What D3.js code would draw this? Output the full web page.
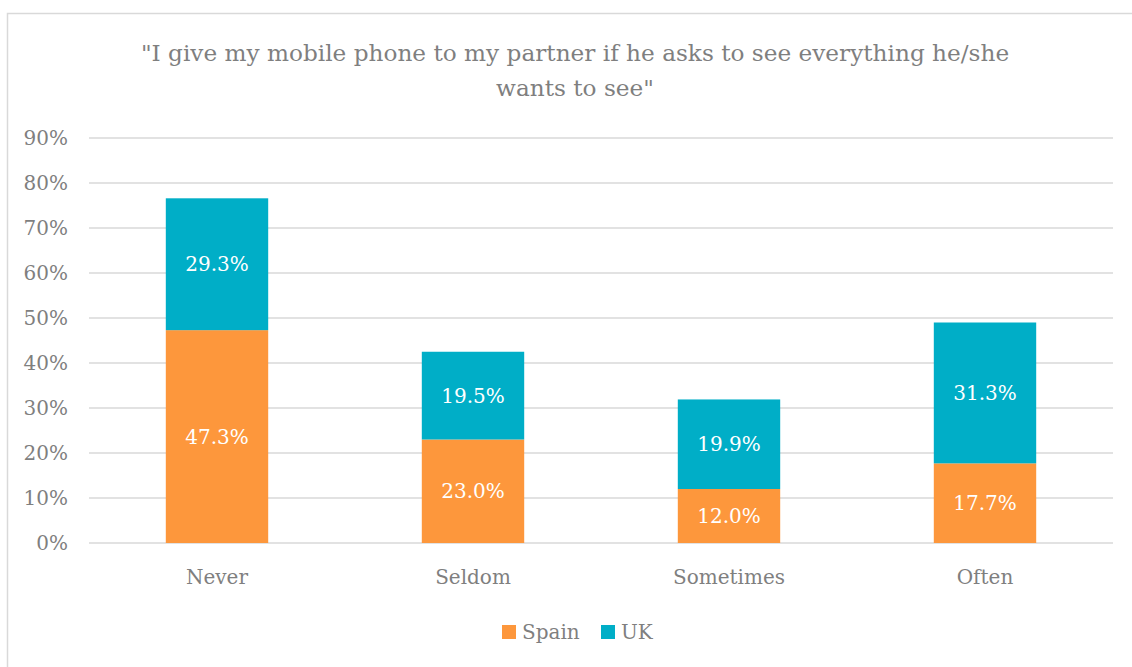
<!DOCTYPE html>
<html>
<head>
<meta charset="utf-8">
<script src="https://cdn.jsdelivr.net/npm/d3@7"></script>
<style>
  body { margin: 0; background: #fff; }
  svg text { font-family: "DejaVu Serif", "Liberation Serif", serif; }
</style>
</head>
<body>
<svg id="chart" width="1132" height="667"></svg>
<script>
const categories = ["Never", "Seldom", "Sometimes", "Often"];
const seriesNames = ["Spain", "UK"];
const spainValues = [47.3, 23.0, 12.0, 17.7];
const ukValues = [29.3, 19.5, 19.9, 31.3];
const yTicks = [0, 10, 20, 30, 40, 50, 60, 70, 80, 90];
const titleLines = ["\"I give my mobile phone to my partner if he asks to see everything he/she", "wants to see\""];
const colors = {"Spain": "#fd973c", "UK": "#00aec7"};

const svg = d3.select("#chart");
const plotLeft = 89, plotRight = 1113, plotTop = 138, plotBottom = 543;

// chart frame
svg.append("rect")
    .attr("x", 7.5).attr("y", 13.5)
    .attr("width", 1140).attr("height", 700)
    .attr("fill", "none").attr("stroke", "#d9d9d9").attr("stroke-width", 1.5);

const x = d3.scaleBand().domain(categories).range([plotLeft, plotRight]);
const y = d3.scaleLinear().domain([0, 90]).range([plotBottom, plotTop]);

// gridlines
svg.append("g").selectAll("line")
    .data(yTicks)
    .enter().append("line")
    .attr("x1", plotLeft).attr("x2", plotRight)
    .attr("y1", d => y(d)).attr("y2", d => y(d))
    .attr("stroke", "#d9d9d9").attr("stroke-width", 1.5);

// y labels
svg.append("g").selectAll("text")
    .data(yTicks)
    .enter().append("text")
    .attr("x", 68).attr("y", d => y(d) + 7)
    .attr("text-anchor", "end")
    .attr("font-size", 20).attr("fill", "#7f7f7f")
    .text(d => d + "%");

// stacked data
const rows = categories.map((c, i) => ({cat: c, Spain: spainValues[i], UK: ukValues[i]}));
const stack = d3.stack().keys(seriesNames)(rows);
const barW = x.bandwidth() * 0.4;

stack.forEach(layer => {
    const g = svg.append("g");
    g.selectAll("rect")
        .data(layer)
        .enter().append("rect")
        .attr("x", d => x(d.data.cat) + (x.bandwidth() - barW) / 2)
        .attr("y", d => y(d[1]))
        .attr("width", barW)
        .attr("height", d => y(d[0]) - y(d[1]))
        .attr("fill", colors[layer.key]);
    g.selectAll("text")
        .data(layer)
        .enter().append("text")
        .attr("x", d => x(d.data.cat) + x.bandwidth() / 2)
        .attr("y", d => (y(d[0]) + y(d[1])) / 2 + 7)
        .attr("text-anchor", "middle")
        .attr("font-size", 20).attr("fill", "#ffffff")
        .text(d => d.data[layer.key].toFixed(1) + "%");
});

// category labels
svg.append("g").selectAll("text")
    .data(categories)
    .enter().append("text")
    .attr("x", d => x(d) + x.bandwidth() / 2)
    .attr("y", 584)
    .attr("text-anchor", "middle")
    .attr("font-size", 20).attr("fill", "#7f7f7f")
    .text(d => d);

// title
svg.append("g").selectAll("text")
    .data(titleLines)
    .enter().append("text")
    .attr("x", 575)
    .attr("y", (d, i) => 61 + i * 35)
    .attr("text-anchor", "middle")
    .attr("font-size", 23.2).attr("fill", "#7f7f7f")
    .text(d => d);

// legend
const legendPos = [502, 601];
const legend = svg.append("g").selectAll("g")
    .data(seriesNames)
    .enter().append("g")
    .attr("transform", (d, i) => "translate(" + legendPos[i] + ",625)");
legend.append("rect")
    .attr("width", 14).attr("height", 14)
    .attr("fill", d => colors[d]);
legend.append("text")
    .attr("x", 20).attr("y", 14)
    .attr("font-size", 20).attr("fill", "#7f7f7f")
    .text(d => d);
</script>
</body>
</html>
